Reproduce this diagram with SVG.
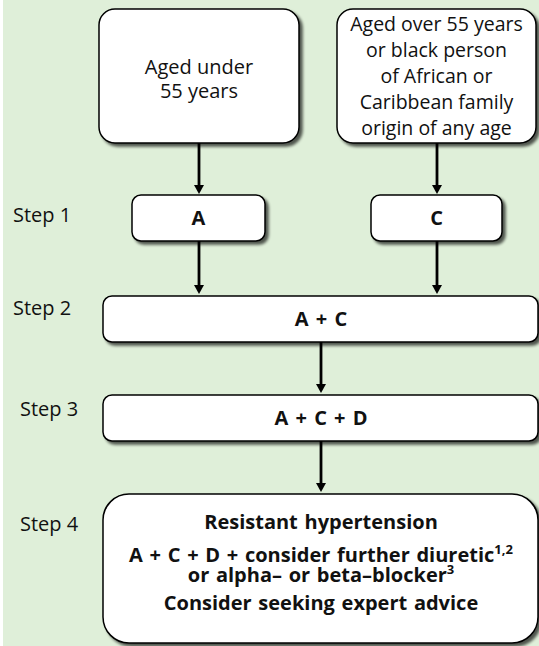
<svg xmlns="http://www.w3.org/2000/svg" width="539" height="646" viewBox="0 0 539 646">
<style>
.bg{fill:#dfefd9}
.box{fill:#ffffff;stroke:#000000;stroke-width:1.5;filter:url(#sh)}
.t{font-family:"Open Sans","Liberation Sans",sans-serif;font-size:20px;fill:#111111;text-anchor:middle}
.b{font-family:"Open Sans","Liberation Sans",sans-serif;font-size:20px;font-weight:bold;fill:#111111;text-anchor:middle;word-spacing:1.5px}
.s{font-family:"Open Sans","Liberation Sans",sans-serif;font-size:20px;fill:#111111}
.ln{stroke:#000000;stroke-width:2.8;fill:none}
.ah{fill:#000000}
</style>
<defs>
<filter id="sh" x="-10%" y="-10%" width="125%" height="130%">
<feGaussianBlur in="SourceAlpha" stdDeviation="1.8"/>
<feOffset dx="2.5" dy="3" result="o"/>
<feComponentTransfer><feFuncA type="linear" slope="0.65"/></feComponentTransfer>
<feMerge><feMergeNode/><feMergeNode in="SourceGraphic"/></feMerge>
</filter>
</defs>
<rect x="0" y="0" width="539" height="646" fill="#ffffff"/>
<rect class="bg" x="3" y="0" width="536" height="646"/>

<g id="labels">
<text class="s" x="13" y="222">Step 1</text>
<text class="s" x="13" y="315">Step 2</text>
<text class="s" x="20" y="416">Step 3</text>
<text class="s" x="20" y="531">Step 4</text>
</g>

<g id="connectors">
<line class="ln" x1="199" y1="143" x2="199" y2="186"/>
<polygon class="ah" points="194,185 204,185 199,194"/>
<line class="ln" x1="437" y1="143" x2="437" y2="186"/>
<polygon class="ah" points="432,185 442,185 437,194"/>
<line class="ln" x1="199" y1="241" x2="199" y2="286"/>
<polygon class="ah" points="194,285 204,285 199,294"/>
<line class="ln" x1="437" y1="241" x2="437" y2="286"/>
<polygon class="ah" points="432,285 442,285 437,294"/>
<line class="ln" x1="321" y1="342" x2="321" y2="385"/>
<polygon class="ah" points="316,384 326,384 321,393"/>
<line class="ln" x1="321" y1="441" x2="321" y2="484"/>
<polygon class="ah" points="316,483 326,483 321,492"/>
</g>

<g id="node-under55">
<rect class="box" x="99" y="9" width="200" height="134" rx="16"/>
<text class="t" x="199" y="74">Aged under</text>
<text class="t" x="199" y="98">55 years</text>
</g>

<g id="node-over55">
<rect class="box" x="337" y="9" width="199" height="134" rx="16"/>
<text class="t" x="436.5" y="31" style="font-size:19.5px">Aged over 55 years</text>
<text class="t" x="436.5" y="57" style="font-size:19.5px">or black person</text>
<text class="t" x="436.5" y="83" style="font-size:19.5px">of African or</text>
<text class="t" x="436.5" y="109" style="font-size:19.5px">Caribbean family</text>
<text class="t" x="436.5" y="135" style="font-size:19.5px">origin of any age</text>
</g>

<g id="node-A">
<rect class="box" x="132" y="195" width="133" height="46" rx="9"/>
<text class="b" x="198.5" y="225">A</text>
</g>

<g id="node-C">
<rect class="box" x="371" y="195" width="131" height="46" rx="9"/>
<text class="b" x="436.5" y="225">C</text>
</g>

<g id="node-AC">
<rect class="box" x="103" y="296" width="435" height="46" rx="9"/>
<text class="b" x="321" y="326" style="word-spacing:2px">A + C</text>
</g>

<g id="node-ACD">
<rect class="box" x="103" y="395" width="435" height="46" rx="9"/>
<text class="b" x="321" y="425" style="word-spacing:2px">A + C + D</text>
</g>

<g id="node-step4">
<rect class="box" x="103" y="494" width="435" height="149" rx="26"/>
<text class="b" x="321" y="529">Resistant hypertension</text>
<text class="b" x="321" y="562">A + C + D + consider further diuretic<tspan font-size="13" dy="-8">1,2</tspan></text>
<text class="b" x="321" y="582">or alpha– or beta–blocker<tspan font-size="13" dy="-8">3</tspan></text>
<text class="b" x="321" y="610">Consider seeking expert advice</text>
</g>
</svg>
